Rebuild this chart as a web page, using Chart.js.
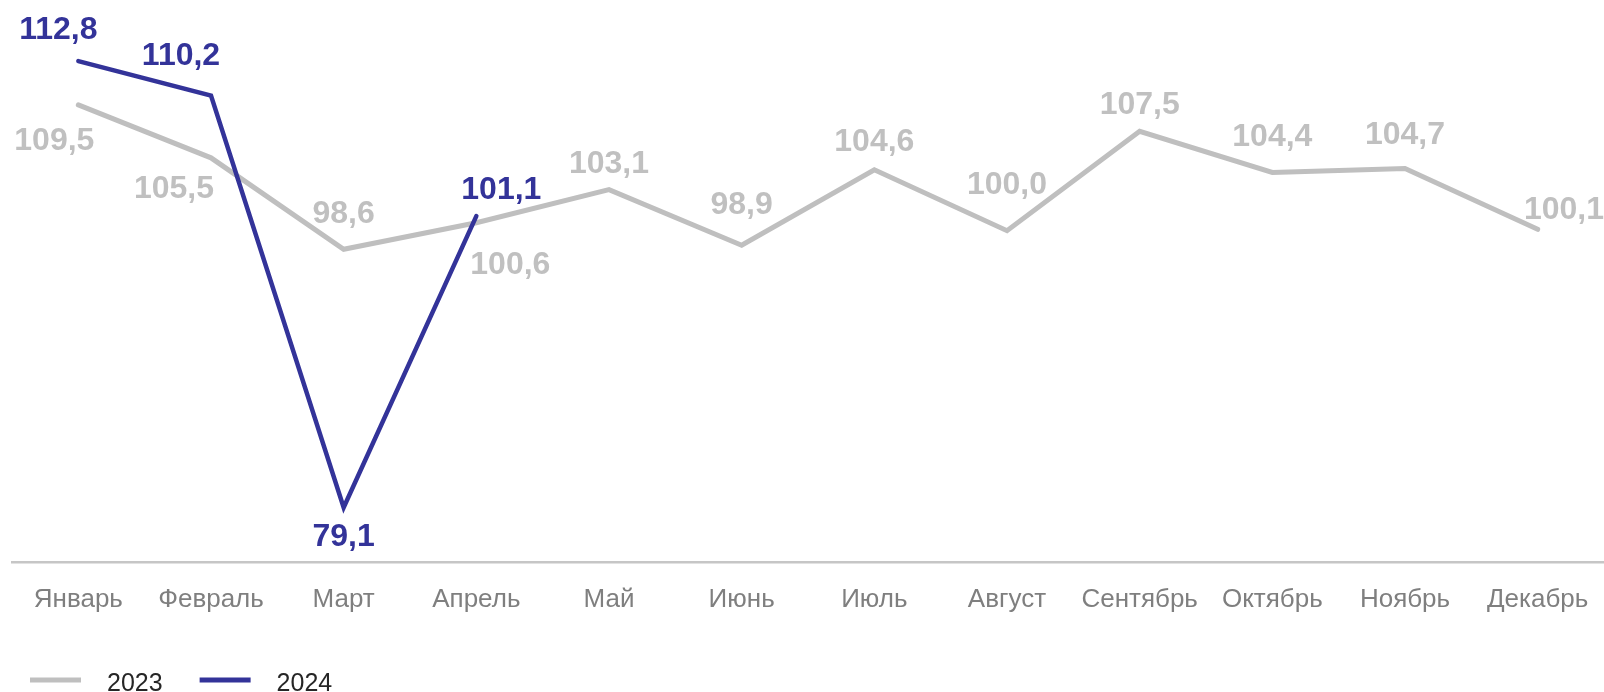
<!DOCTYPE html>
<html>
<head>
<meta charset="utf-8">
<script src="https://cdn.jsdelivr.net/npm/chart.js@4/dist/chart.umd.min.js"></script>
<style>
html,body{margin:0;padding:0;background:#fff;}
#wrap{width:1604px;height:692px;position:relative;}
</style>
</head>
<body>
<div id="wrap"><canvas id="c"></canvas></div>
<script>
const months = ['Январь','Февраль','Март','Апрель','Май','Июнь','Июль','Август','Сентябрь','Октябрь','Ноябрь','Декабрь'];
const values2023 = [109.5,105.5,98.6,100.6,103.1,98.9,104.6,100.0,107.5,104.4,104.7,100.1];
const values2024 = [112.8,110.2,79.1,101.1];
const seriesNames = ['2023','2024'];
const yMin = 75, yMax = 115;

// label placement offsets (style only)
const offsets2023 = [[-24,36],[-37,31],[0,-35],[34,42],[0,-25],[0,-40],[0,-28],[0,-46],[0,-26],[0,-35],[0,-33],[27,-19]];
const offsets2024 = [[-20,-31],[-30,-39],[0,30],[25,-26]];

const GRAY = '#bfbfbf';
const BLUE = '#333399';

const fmt = v => v.toFixed(1).replace('.', ',');

const labelPlugin = {
  id: 'valueLabels',
  afterDatasetsDraw(chart) {
    const ctx = chart.ctx;
    ctx.save();
    ctx.font = 'bold 32px "Liberation Sans", Arial, sans-serif';
    ctx.textAlign = 'center';
    ctx.textBaseline = 'middle';
    chart.data.datasets.forEach((ds, di) => {
      const meta = chart.getDatasetMeta(di);
      const offs = ds.labelOffsets;
      ctx.fillStyle = ds.labelColor;
      meta.data.forEach((pt, i) => {
        const v = ds.data[i];
        if (v == null) return;
        const t = fmt(v);
        const w = ctx.measureText(t).width;
        let x = pt.x + offs[i][0];
        const y = pt.y + offs[i][1];
        if (x + w / 2 > chart.width) x = chart.width - w / 2;
        ctx.fillText(t, x, y);
      });
    });
    ctx.restore();
  }
};

const legendPlugin = {
  id: 'customLegend',
  afterDraw(chart) {
    const ctx = chart.ctx;
    ctx.save();
    ctx.font = '25px "Liberation Sans", Arial, sans-serif';
    ctx.textBaseline = 'alphabetic';
    ctx.textAlign = 'left';
    let x = 30;
    const yLine = 680, yText = 691;
    chart.data.datasets.forEach(ds => {
      ctx.fillStyle = ds.borderColor;
      ctx.fillRect(x, yLine - 2.5, 51, 5);
      ctx.fillStyle = '#262626';
      ctx.fillText(ds.label, x + 77, yText);
      x += 77 + ctx.measureText(ds.label).width + 37;
    });
    ctx.restore();
  }
};

new Chart(document.getElementById('c'), {
  type: 'line',
  data: {
    labels: months,
    datasets: [
      {
        label: seriesNames[0],
        data: values2023,
        borderColor: GRAY,
        backgroundColor: GRAY,
        borderWidth: 5,
        pointRadius: 0,
        borderCapStyle: 'round',
        tension: 0,
        order: 1,
        labelColor: '#c0c0c0',
        labelOffsets: offsets2023
      },
      {
        label: seriesNames[1],
        data: values2024,
        borderColor: BLUE,
        backgroundColor: BLUE,
        borderWidth: 4.5,
        pointRadius: 0,
        borderCapStyle: 'round',
        tension: 0,
        order: 0,
        labelColor: BLUE,
        labelOffsets: offsets2024
      }
    ]
  },
  options: {
    responsive: true,
    maintainAspectRatio: false,
    animation: false,
    layout: { padding: { top: 32, left: 12, right: 0, bottom: 55 } },
    plugins: { legend: { display: false }, tooltip: { enabled: false } },
    scales: {
      x: {
        offset: true,
        afterFit(scale) { scale.paddingLeft = 0; scale.paddingRight = 0; },
        grid: { display: false, drawTicks: false },
        border: { display: true, color: '#c6c6c6', width: 2.5 },
        ticks: {
          color: '#7f7f7f',
          padding: 22,
          font: { family: '"Liberation Sans", Arial, sans-serif', size: 26 },
          maxRotation: 0,
          autoSkip: false
        }
      },
      y: {
        display: false,
        min: yMin,
        max: yMax
      }
    }
  },
  plugins: [labelPlugin, legendPlugin]
});
</script>
</body>
</html>
